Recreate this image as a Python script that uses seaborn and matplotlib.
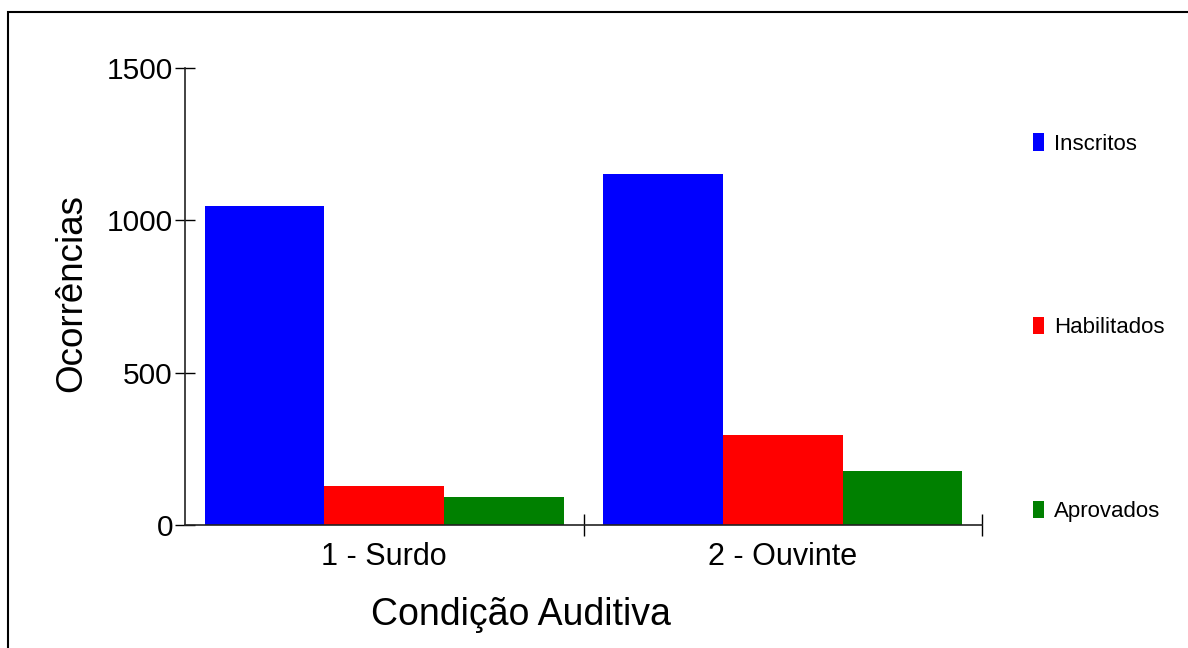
import pandas as pd
import seaborn as sns
import matplotlib.pyplot as plt
from matplotlib.patches import Rectangle, Patch
from matplotlib.ticker import FixedLocator

condicoes = ["1 - Surdo", "2 - Ouvinte"]
series = ["Inscritos", "Habilitados", "Aprovados"]
inscritos = [1047, 1152]
habilitados = [128, 296]
aprovados = [92, 177]
cores = ["#0000FF", "#FF0000", "#008000"]
yticks = [0, 500, 1000, 1500]

df = pd.DataFrame({
    "condicao": condicoes * 3,
    "serie": [s for s in series for _ in condicoes],
    "valor": inscritos + habilitados + aprovados,
})

sns.set_style("white")
plt.rcParams["font.family"] = ["Liberation Sans", "DejaVu Sans"]
plt.rcParams["text.color"] = "black"
plt.rcParams["axes.labelcolor"] = "black"
plt.rcParams["xtick.color"] = "black"
plt.rcParams["ytick.color"] = "black"

fig = plt.figure(figsize=(11.88, 6.48), dpi=100)
ax = fig.add_axes([185 / 1188, 123 / 648, 797 / 1188, 457 / 648])

sns.barplot(data=df, x="condicao", y="valor", hue="serie", hue_order=series,
            palette=cores, saturation=1, width=0.9, linewidth=0, ax=ax,
            legend=False)

ax.set_xlim(-0.5, 1.5)
ax.set_ylim(0, 1500)
ax.set_yticks(yticks)
ax.tick_params(axis="y", left=True, direction="inout", length=14.4, width=1,
               labelsize=21.5, pad=1.5)
ax.tick_params(axis="x", which="major", bottom=True, length=0, labelsize=22, pad=12)
ax.xaxis.set_minor_locator(FixedLocator([0.5, 1.5]))
ax.tick_params(axis="x", which="minor", bottom=True, direction="inout", length=16, width=1)

for s in ["top", "right"]:
    ax.spines[s].set_visible(False)
for s in ["left", "bottom"]:
    ax.spines[s].set_color("#222222")
    ax.spines[s].set_linewidth(1.2)

ax.set_xlabel("Condição Auditiva", fontsize=27)
ax.xaxis.set_label_coords(0.4216, -0.157)
ax.set_ylabel("Ocorrências", fontsize=26.5)
ax.yaxis.set_label_coords(-0.12, 0.5066)

handles = [Patch(facecolor=c, edgecolor="none") for c in cores]
fig.legend(handles, series, loc="upper left", bbox_to_anchor=(1033 / 1188, 1 - 133 / 648),
           frameon=False, fontsize=16, handlelength=0.5, handleheight=0.85,
           handletextpad=0.45, labelspacing=7.3, borderaxespad=0, borderpad=0)

fig.patches.append(Rectangle((8 / 1188, -0.05), 1.1, 1 - 12 / 648 + 0.05,
                             transform=fig.transFigure, fill=False,
                             edgecolor="black", linewidth=1.5))

plt.savefig("out.png", dpi=100)
